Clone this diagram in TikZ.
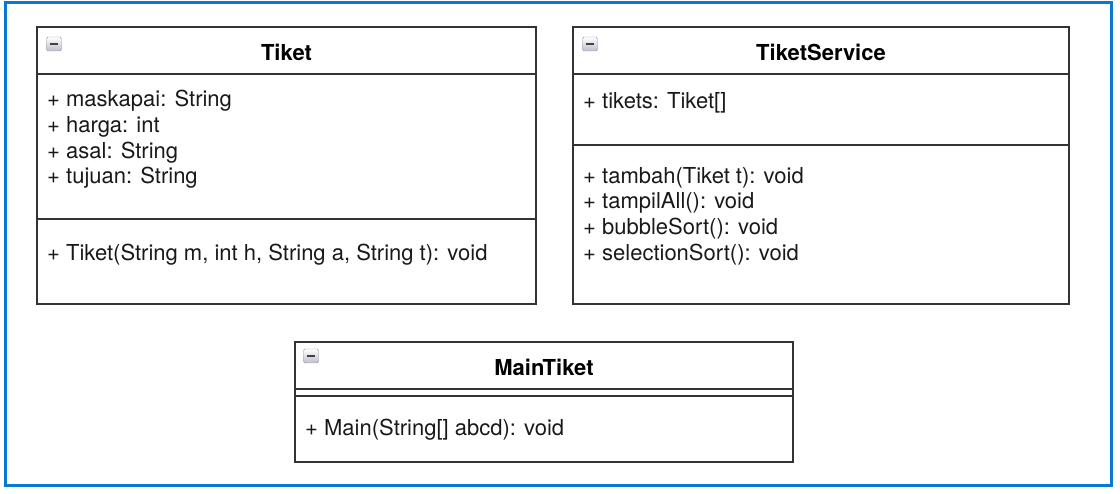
\documentclass[tikz,border=0pt]{standalone}
\usepackage{fontspec}
\setmainfont{TeX Gyre Heros}
\usetikzlibrary{positioning}
\definecolor{frameblue}{HTML}{0A78D2}
\definecolor{umlline}{HTML}{333333}
\tikzset{
    classhead/.style={draw=umlline, line width=1.6pt, outer sep=0pt, inner sep=0pt, minimum height=47pt, font=\fontsize{22}{25.7}\selectfont\bfseries, text height=21pt, text depth=0pt},
    compartment/.style={draw=umlline, line width=1.6pt, outer sep=0pt, inner sep=0pt},
    members/.style={anchor=north west, align=left, inner sep=0pt, text=black!90},
    toggle/.style={draw=gray!80, rounded corners=1.5pt, top color=white, bottom color=blue!15!gray!45, minimum width=15pt, minimum height=14pt, inner sep=0pt,
        path picture={\draw[line width=2.2pt, black!75] ([xshift=3.5pt]path picture bounding box.west) -- ([xshift=-3.5pt]path picture bounding box.east);}}
}

\begin{document}
\begin{tikzpicture}[x=1pt, y=-1pt, font=\fontsize{22}{25.7}\selectfont]
    \useasboundingbox (0,0) rectangle (1120,494);
    \draw [frameblue, line width=3pt] (5,3) rectangle (1111,485);

    % Tiket
    \node (tiketHead) [classhead, minimum width=499pt, anchor=north west] at (37,27) {Tiket};
    \node (tiketAttr) [compartment, minimum width=499pt, minimum height=145pt, below=0pt of tiketHead] {};
    \node (tiketOps) [compartment, minimum width=499pt, minimum height=85pt, below=0pt of tiketAttr] {};
    \node (tiketIcon) [toggle] at ([xshift=17pt, yshift=-17pt]tiketHead.north west) {};
    \node (tiketAttrText) [members] at ([xshift=10pt, yshift=-16pt]tiketAttr.north west) {+ maskapai: String\\+ harga: int\\+ asal: String\\+ tujuan: String};
    \node (tiketOpsText) [members] at ([xshift=10pt, yshift=-25pt]tiketOps.north west) {+ Tiket(String m, int h, String a, String t): void};

    % TiketService
    \node (serviceHead) [classhead, minimum width=496pt, right=37pt of tiketHead] {TiketService};
    \node (serviceAttr) [compartment, minimum width=496pt, minimum height=71pt, below=0pt of serviceHead] {};
    \node (serviceOps) [compartment, minimum width=496pt, minimum height=159pt, below=0pt of serviceAttr] {};
    \node (serviceIcon) [toggle] at ([xshift=17pt, yshift=-17pt]serviceHead.north west) {};
    \node (serviceAttrText) [members] at ([xshift=10pt, yshift=-18pt]serviceAttr.north west) {+ tikets: Tiket[]};
    \node (serviceOpsText) [members] at ([xshift=10pt, yshift=-22pt]serviceOps.north west) {+ tambah(Tiket t): void\\+ tampilAll(): void\\+ bubbleSort(): void\\+ selectionSort(): void};

    % MainTiket
    \node (mainHead) [classhead, minimum width=498pt, anchor=north west] at (295,342) {MainTiket};
    \node (mainAttr) [compartment, minimum width=498pt, minimum height=7pt, below=0pt of mainHead] {};
    \node (mainOps) [compartment, minimum width=498pt, minimum height=66pt, below=0pt of mainAttr] {};
    \node (mainIcon) [toggle] at ([xshift=16pt, yshift=-14pt]mainHead.north west) {};
    \node (mainOpsText) [members] at ([xshift=10pt, yshift=-23pt]mainOps.north west) {+ Main(String[] abcd): void};
\end{tikzpicture}
\end{document}
